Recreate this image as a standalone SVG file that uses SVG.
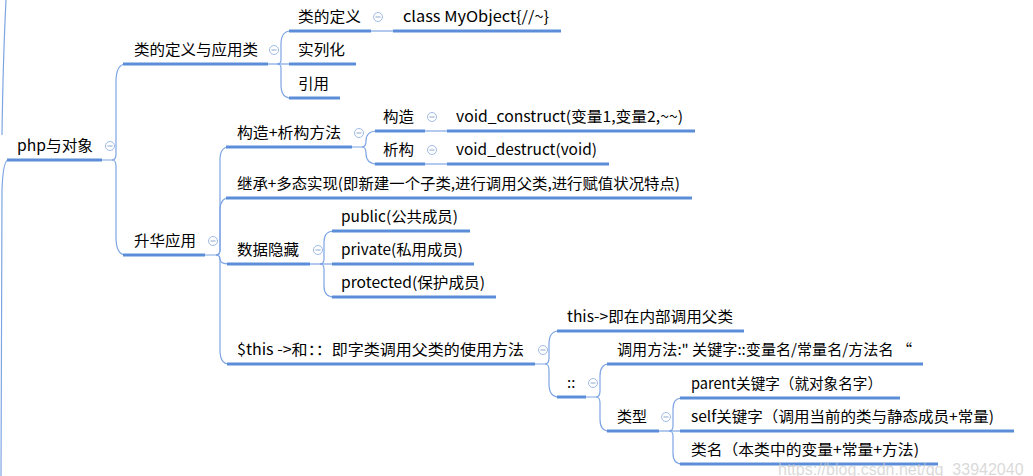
<svg xmlns="http://www.w3.org/2000/svg" width="1033" height="476" viewBox="0 0 1033 476">
<style>
.t{font-family:"Microsoft YaHei","Noto Sans CJK SC","Liberation Sans",sans-serif;font-size:15px;fill:#000}
.u{stroke:#5b8dd9;stroke-width:3;fill:none}
.c{stroke:#7da5e4;stroke-width:1.2;fill:none}
.b circle{fill:#fff;stroke:#9fbbe6;stroke-width:1}
.b line{stroke:#8ea6cc;stroke-width:1}
.wm{font-family:"Liberation Sans",Arial,sans-serif;font-size:16px;fill:#c9c9c9;fill-opacity:0.7}
</style>
<defs>
<g id="btn" class="b"><circle cx="0" cy="0" r="4.5"/><line x1="-2.5" y1="0" x2="2.5" y2="0"/></g>
</defs>
<rect width="1033" height="476" fill="#fff"/>
<g id="connectors">
<path class="c" d="M6 0 Q3 60 2 135"/>
<path class="c" d="M8 160 Q3 161 2 190 L1 476"/>
<path class="c" d="M102 160 H112 Q116 160 116 154 V82 Q116 64 126 64"/>
<path class="c" d="M112 160 Q116 160 116 166 V237 Q116 255 126 255"/>
<path class="c" d="M268 64 H291"/>
<path class="c" d="M277 64 Q281 64 281 60 V44 Q281 31 291 31"/>
<path class="c" d="M277 64 Q281 64 281 68 V85 Q281 98 291 98"/>
<path class="c" d="M371 31 H395"/>
<path class="c" d="M205 255 H216 Q220 255 220 250 V160 Q220 147 229 147"/>
<path class="c" d="M216 255 Q220 255 220 250 V210 Q220 198 229 198"/>
<path class="c" d="M216 255 Q220 255 220 259 Q220 264 229 264"/>
<path class="c" d="M216 255 Q220 255 220 260 V350 Q220 364 229 364"/>
<path class="c" d="M352 147 H362 Q366 147 366 141 Q366 131 377 131"/>
<path class="c" d="M362 147 Q366 147 366 153 Q366 164 377 164"/>
<path class="c" d="M425 131 H449"/>
<path class="c" d="M425 164 H449"/>
<path class="c" d="M310 264 H334"/>
<path class="c" d="M320 264 Q324 264 324 259 V242 Q324 231 334 231"/>
<path class="c" d="M320 264 Q324 264 324 269 V286 Q324 297 334 297"/>
<path class="c" d="M535 364 H545 Q549 364 549 358 V344 Q549 331 559 331"/>
<path class="c" d="M545 364 Q549 364 549 370 V384 Q549 397 559 397"/>
<path class="c" d="M586 397 H596 Q600 397 600 391 V376 Q600 364 609 364"/>
<path class="c" d="M596 397 Q600 397 600 403 V419 Q600 431 609 431"/>
<path class="c" d="M659 431 H682"/>
<path class="c" d="M669 431 Q673 431 673 426 V409 Q673 398 682 398"/>
<path class="c" d="M669 431 Q673 431 673 436 V453 Q673 464 682 464"/>
</g>
<g id="n-root"><line class="u" x1="7" y1="160" x2="102" y2="160"/><text class="t" x="17" y="151" textLength="76" lengthAdjust="spacingAndGlyphs">php与对象</text><use href="#btn" x="110" y="146"/></g>
<g id="n-lei"><line class="u" x1="123" y1="64" x2="268" y2="64"/><text class="t" x="134" y="55" textLength="124" lengthAdjust="spacingAndGlyphs">类的定义与应用类</text><use href="#btn" x="274" y="50"/></g>
<g id="n-def"><line class="u" x1="289" y1="31" x2="371" y2="31"/><text class="t" x="298" y="22" textLength="63" lengthAdjust="spacingAndGlyphs">类的定义</text><use href="#btn" x="378" y="17"/></g>
<g id="n-class"><line class="u" x1="393" y1="31" x2="561" y2="31"/><text class="t" x="403" y="22" textLength="146" lengthAdjust="spacingAndGlyphs">class MyObject{//~}</text></g>
<g id="n-inst"><line class="u" x1="289" y1="64" x2="356" y2="64"/><text class="t" x="298" y="55" textLength="47" lengthAdjust="spacingAndGlyphs">实列化</text></g>
<g id="n-ref"><line class="u" x1="289" y1="98" x2="340" y2="98"/><text class="t" x="298" y="89" textLength="31" lengthAdjust="spacingAndGlyphs">引用</text></g>
<g id="n-adv"><line class="u" x1="123" y1="255" x2="205" y2="255"/><text class="t" x="134" y="246" textLength="62" lengthAdjust="spacingAndGlyphs">升华应用</text><use href="#btn" x="213" y="241"/></g>
<g id="n-ctor"><line class="u" x1="226" y1="147" x2="352" y2="147"/><text class="t" x="237" y="138" textLength="104" lengthAdjust="spacingAndGlyphs">构造+析构方法</text><use href="#btn" x="359" y="133"/></g>
<g id="n-gz"><line class="u" x1="375" y1="131" x2="425" y2="131"/><text class="t" x="383" y="122" textLength="31" lengthAdjust="spacingAndGlyphs">构造</text><use href="#btn" x="432" y="117"/></g>
<g id="n-gzv"><line class="u" x1="447" y1="131" x2="695" y2="131"/><text class="t" x="456" y="122" textLength="227" lengthAdjust="spacingAndGlyphs">void_construct(变量1,变量2,~~)</text></g>
<g id="n-xg"><line class="u" x1="375" y1="164" x2="425" y2="164"/><text class="t" x="383" y="155" textLength="31" lengthAdjust="spacingAndGlyphs">析构</text><use href="#btn" x="432" y="150"/></g>
<g id="n-xgv"><line class="u" x1="447" y1="164" x2="609" y2="164"/><text class="t" x="456" y="155" textLength="141" lengthAdjust="spacingAndGlyphs">void_destruct(void)</text></g>
<g id="n-inherit"><line class="u" x1="226" y1="198" x2="692" y2="198"/><text class="t" x="237" y="189" textLength="443" lengthAdjust="spacingAndGlyphs">继承+多态实现(即新建一个子类,进行调用父类,进行赋值状况特点)</text></g>
<g id="n-hide"><line class="u" x1="227" y1="264" x2="310" y2="264"/><text class="t" x="237" y="255" textLength="62" lengthAdjust="spacingAndGlyphs">数据隐藏</text><use href="#btn" x="318" y="250"/></g>
<g id="n-public"><line class="u" x1="332" y1="231" x2="470" y2="231"/><text class="t" x="341" y="222" textLength="117" lengthAdjust="spacingAndGlyphs">public(公共成员)</text></g>
<g id="n-private"><line class="u" x1="332" y1="264" x2="474" y2="264"/><text class="t" x="341" y="255" textLength="122" lengthAdjust="spacingAndGlyphs">private(私用成员)</text></g>
<g id="n-protected"><line class="u" x1="332" y1="297" x2="496" y2="297"/><text class="t" x="341" y="288" textLength="144" lengthAdjust="spacingAndGlyphs">protected(保护成员)</text></g>
<g id="n-this"><line class="u" x1="227" y1="364" x2="535" y2="364"/><text class="t" x="237" y="355" textLength="287" lengthAdjust="spacingAndGlyphs">$this -&gt;和：：即字类调用父类的使用方法</text><use href="#btn" x="543" y="350"/></g>
<g id="n-thisin"><line class="u" x1="557" y1="331" x2="744" y2="331"/><text class="t" x="567" y="322" textLength="166" lengthAdjust="spacingAndGlyphs">this-&gt;即在内部调用父类</text></g>
<g id="n-dc"><line class="u" x1="557" y1="397" x2="586" y2="397"/><text class="t" x="567" y="388">::</text><use href="#btn" x="593" y="383"/></g>
<g id="n-call"><line class="u" x1="607" y1="364" x2="923" y2="364"/><text class="t" x="617" y="355" textLength="295" lengthAdjust="spacingAndGlyphs">调用方法:" 关键字::变量名/常量名/方法名 “</text></g>
<g id="n-type"><line class="u" x1="607" y1="431" x2="659" y2="431"/><text class="t" x="617" y="422" textLength="30" lengthAdjust="spacingAndGlyphs">类型</text><use href="#btn" x="666" y="417"/></g>
<g id="n-parent"><line class="u" x1="680" y1="398" x2="900" y2="398"/><text class="t" x="691" y="389" textLength="191" lengthAdjust="spacingAndGlyphs">parent关键字（就对象名字）</text></g>
<g id="n-self"><line class="u" x1="680" y1="431" x2="1014" y2="431"/><text class="t" x="691" y="422" textLength="303" lengthAdjust="spacingAndGlyphs">self关键字（调用当前的类与静态成员+常量)</text></g>
<g id="n-name"><line class="u" x1="680" y1="464" x2="938" y2="464"/><text class="t" x="691" y="455" textLength="228" lengthAdjust="spacingAndGlyphs">类名（本类中的变量+常量+方法)</text></g>
<text class="wm" x="778" y="475">https://blog.csdn.net/qq_33942040</text>
</svg>
